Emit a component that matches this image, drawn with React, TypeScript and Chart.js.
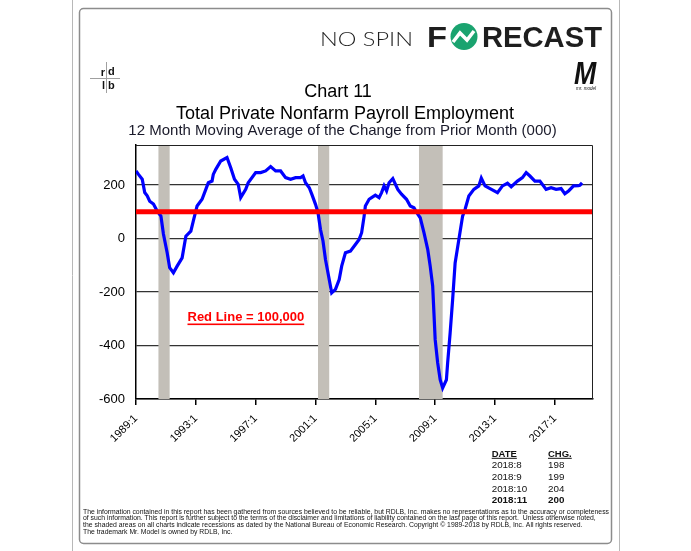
import React, { useEffect, useRef } from "react";
import { Chart, registerables } from "chart.js";

Chart.register(...registerables);

// ---- data ----
const months: string[] = [
  "1989:1", "1989:3", "1989:6", "1989:8", "1989:10", "1989:12", "1990:3", "1990:6", "1990:9", "1990:11",
  "1991:2", "1991:4", "1991:7", "1991:10", "1992:2", "1992:5", "1992:9", "1992:11", "1993:2", "1993:6",
  "1993:9", "1993:11", "1994:2", "1994:3", "1994:5", "1994:9", "1995:2", "1995:5", "1995:8", "1995:11",
  "1996:1", "1996:5", "1996:7", "1997:1", "1997:5", "1997:9", "1998:1", "1998:5", "1998:9", "1999:1",
  "1999:5", "1999:9", "2000:1", "2000:3", "2000:5", "2000:8", "2000:10", "2001:1", "2001:3", "2001:5",
  "2001:7", "2001:9", "2001:12", "2002:2", "2002:5", "2002:8", "2002:10", "2003:1", "2003:5", "2003:9",
  "2003:12", "2004:2", "2004:4", "2004:5", "2004:8", "2004:10", "2005:1", "2005:4", "2005:6", "2005:8",
  "2005:10", "2005:12", "2006:3", "2006:7", "2006:10", "2007:2", "2007:5", "2007:8", "2007:11", "2008:1",
  "2008:4", "2008:7", "2008:9", "2008:11", "2008:12", "2009:1", "2009:3", "2009:5", "2009:7", "2009:10",
  "2009:11", "2010:1", "2010:3", "2010:5", "2010:8", "2010:11", "2011:1", "2011:4", "2011:8", "2011:12",
  "2012:2", "2012:5", "2012:9", "2013:3", "2013:7", "2013:11", "2014:2", "2014:7", "2014:11", "2015:2",
  "2015:5", "2015:9", "2016:1", "2016:6", "2016:10", "2017:2", "2017:6", "2017:9", "2017:12", "2018:4",
  "2018:8", "2018:9", "2018:10", "2018:11",
];
const changes: number[] = [
  253, 240, 222, 172, 160, 140, 129, 103, 84, 17,
  -53, -109, -128, -103, -72, 9, 28, 66, 122, 147,
  184, 209, 215, 240, 259, 290, 303, 265, 222, 203,
  153, 184, 209, 247, 247, 253, 269, 253, 253, 228,
  222, 228, 228, 234, 209, 190, 166, 128, 97, 34,
  -9, -78, -153, -203, -190, -153, -103, -53, -47, -22,
  -3, 22, 84, 122, 147, 153, 162, 153, 172, 197,
  178, 209, 224, 184, 166, 147, 122, 115, 91, 78,
  22, -40, -103, -178, -278, -378, -465, -528, -559, -528,
  -465, -353, -228, -91, -3, 84, 110, 159, 184, 197,
  226, 197, 187, 172, 197, 207, 194, 215, 228, 247,
  234, 215, 215, 184, 190, 184, 187, 168, 178, 197,
  198, 199, 204, 200,
];
const redLineValue = 100;
const recessions: [string, string][] = [
  ["1990:7", "1991:3"],
  ["2001:3", "2001:11"],
  ["2007:12", "2009:6"],
];
const xTickYears = [1989, 1993, 1997, 2001, 2005, 2009, 2013, 2017];
const yTicks = [-600, -400, -200, 0, 200];
const tableDates = ["2018:8", "2018:9", "2018:10", "2018:11"];
const tableChanges = [198, 199, 204, 200];
const footnote = [
  "The information contained in this report has been gathered from sources believed to be reliable, but RDLB, Inc. makes no representations as to the accuracy or completeness",
  "of such information. This report is further subject to the terms of the disclaimer and limitations of liability contained on the last page of this report.  Unless otherwise noted,",
  "the shaded areas on all charts indicate recessions as dated by the National Bureau of Economic Research. Copyright \u00a9 1989-2018 by RDLB, Inc. All rights reserved.",
  "The trademark Mr. Model is owned by RDLB, Inc.",
];

const FONT = "'Liberation Sans', Arial, sans-serif";

function toX(s: string): number {
  const [y, m] = s.split(":").map(Number);
  return y + (m - 1) / 12;
}

function fitText(ctx: CanvasRenderingContext2D, t: string, x: number, y: number, width: number) {
  const w = ctx.measureText(t).width;
  ctx.save();
  ctx.translate(x, y);
  ctx.scale(width / w, 1);
  ctx.fillText(t, 0, 0);
  ctx.restore();
}

const decor = {
  id: "decor",
  beforeDatasetsDraw(chart: any) {
    const { ctx, chartArea: a, scales } = chart;
    const x = scales.x;
    ctx.save();
    ctx.fillStyle = "#c3bfb8";
    for (const [s, e] of recessions) {
      const x0 = x.getPixelForValue(toX(s));
      const x1 = x.getPixelForValue(toX(e) + 1 / 12);
      ctx.fillRect(x0, a.top, x1 - x0, a.bottom - a.top);
    }
    ctx.restore();
  },
  afterDraw(chart: any) {
    const { ctx, chartArea: a } = chart;
    ctx.save();

    // plot frame (top/right)
    ctx.strokeStyle = "#222";
    ctx.lineWidth = 1;
    ctx.beginPath();
    ctx.moveTo(a.left, a.top + 0.5);
    ctx.lineTo(a.right - 0.5, a.top + 0.5);
    ctx.lineTo(a.right - 0.5, a.bottom);
    ctx.stroke();

    // page frame
    ctx.strokeStyle = "#b8b8b8";
    ctx.lineWidth = 1;
    ctx.beginPath();
    ctx.moveTo(72.5, 0);
    ctx.lineTo(72.5, 551);
    ctx.moveTo(619.5, 0);
    ctx.lineTo(619.5, 551);
    ctx.stroke();
    ctx.strokeStyle = "#8c8c8c";
    ctx.lineWidth = 1.5;
    ctx.beginPath();
    (ctx as any).roundRect(79.5, 8.5, 532, 535, 4);
    ctx.stroke();

    // titles
    ctx.fillStyle = "#000";
    ctx.textAlign = "center";
    ctx.textBaseline = "alphabetic";
    ctx.font = `18px ${FONT}`;
    ctx.fillText("Chart 11", 338, 97);
    ctx.fillText("Total Private Nonfarm Payroll Employment", 345, 119);
    ctx.font = `15px ${FONT}`;
    ctx.fillStyle = "#1a1a2a";
    ctx.fillText("12 Month Moving Average of the Change from Prior Month (000)", 342.5, 134.5);

    // NO SPIN FORECAST logo
    ctx.textAlign = "left";
    ctx.fillStyle = "#1e1e1e";
    ctx.font = `300 19px Lato, ${FONT}`;
    fitText(ctx, "NO SPIN", 320, 46, 93);
    ctx.font = `bold 29px ${FONT}`;
    fitText(ctx, "F", 427, 47, 20);
    fitText(ctx, "RECAST", 482, 47, 120);
    ctx.fillStyle = "#1aa36f";
    ctx.beginPath();
    ctx.arc(464, 36.5, 13.5, 0, Math.PI * 2);
    ctx.fill();
    ctx.strokeStyle = "#fff";
    ctx.lineWidth = 3.5;
    ctx.lineJoin = "miter";
    ctx.beginPath();
    ctx.moveTo(453, 42);
    ctx.lineTo(460, 33);
    ctx.lineTo(467, 40);
    ctx.lineTo(474, 31);
    ctx.stroke();

    // rdlb logo
    ctx.strokeStyle = "#a0a0a0";
    ctx.lineWidth = 1;
    ctx.beginPath();
    ctx.moveTo(106.5, 62);
    ctx.lineTo(106.5, 93);
    ctx.moveTo(90, 78.5);
    ctx.lineTo(120, 78.5);
    ctx.stroke();
    ctx.fillStyle = "#111";
    ctx.font = `bold 11px ${FONT}`;
    ctx.textAlign = "right";
    ctx.fillText("r", 105, 76);
    ctx.fillText("l", 105, 89);
    ctx.textAlign = "left";
    ctx.fillText("d", 108, 75);
    ctx.fillText("b", 108, 89);

    // Mr. Model logo
    ctx.save();
    ctx.translate(574, 84);
    ctx.scale(0.92, 1.05);
    ctx.font = `bold italic 29px ${FONT}`;
    ctx.fillStyle = "#111";
    ctx.fillText("M", 0, 0);
    ctx.restore();
    ctx.font = `italic 4.5px ${FONT}`;
    ctx.textAlign = "center";
    ctx.fillText("mr. model", 586, 90);

    // red line annotation
    ctx.textAlign = "left";
    ctx.fillStyle = "#ff0000";
    ctx.font = `bold 13px ${FONT}`;
    const lbl = "Red Line = 100,000";
    ctx.fillText(lbl, 187.5, 321);
    const lw = ctx.measureText(lbl).width;
    ctx.fillRect(187.5, 323.5, lw, 1.6);

    // table
    ctx.fillStyle = "#111";
    ctx.font = `bold 9.5px ${FONT}`;
    ctx.fillText("DATE", 491.7, 456.7);
    let w = ctx.measureText("DATE").width;
    ctx.fillRect(491.7, 457.8, w, 1);
    ctx.fillText("CHG.", 548, 456.7);
    w = ctx.measureText("CHG.").width;
    ctx.fillRect(548, 457.8, w, 1);
    const rowY = [468.3, 480, 491.7, 503.3];
    tableDates.forEach((d, i) => {
      ctx.font = `${i === tableDates.length - 1 ? "bold " : ""}9.8px ${FONT}`;
      ctx.fillText(d, 491.7, rowY[i]);
      ctx.fillText(String(tableChanges[i]), 548, rowY[i]);
    });

    // footnote
    ctx.font = `6.8px ${FONT}`;
    ctx.fillStyle = "#111";
    const w1 = ctx.measureText(footnote[0]).width;
    const sx = 526 / w1;
    const fy = [513.5, 520.3, 527, 533.7];
    footnote.forEach((t, i) => {
      ctx.save();
      ctx.translate(83, fy[i]);
      ctx.scale(sx, 1);
      ctx.fillText(t, 0, 0);
      ctx.restore();
    });

    ctx.restore();
  },
};

export default function App() {
  const ref = useRef<HTMLCanvasElement | null>(null);
  useEffect(() => {
    if (!ref.current) return;
    const pts = months.map((m, i) => ({ x: toX(m), y: changes[i] }));
    const xMin = 1989;
    const xMax = 2019.55;
    const chart = new Chart(ref.current, {
      type: "line",
      data: {
        datasets: [
          {
            label: "Red Line",
            data: [
              { x: xMin, y: redLineValue },
              { x: xMax, y: redLineValue },
            ],
            borderColor: "#ff0000",
            borderWidth: 5,
            pointRadius: 0,
            order: 0,
          },
          {
            label: "Private payroll change",
            data: pts,
            borderColor: "#0000ff",
            borderWidth: 3.2,
            pointRadius: 0,
            tension: 0,
            order: 1,
          },
        ],
      },
      options: {
        animation: false,
        responsive: false,
        devicePixelRatio: 1,
        events: [],
        layout: { padding: { left: 86, right: 98, top: 145, bottom: 102 } },
        plugins: { legend: { display: false }, tooltip: { enabled: false }, title: { display: false } },
        scales: {
          x: {
            type: "linear",
            min: xMin,
            max: xMax,
            afterBuildTicks: (s: any) => {
              s.ticks = xTickYears.map((v) => ({ value: v }));
            },
            afterFit: (s: any) => {
              s.height = 50;
            },
            ticks: {
              callback: (v: any) => `${v}:1`,
              minRotation: 45,
              maxRotation: 45,
              autoSkip: false,
              padding: 7,
              color: "#000",
              font: { family: FONT, size: 11 },
            },
            grid: { drawOnChartArea: false, drawTicks: true, tickLength: 6, color: "#000", lineWidth: 1.5 },
            border: { display: true, color: "#000", width: 1.5 },
          },
          y: {
            type: "linear",
            min: -600,
            max: 350,
            afterBuildTicks: (s: any) => {
              s.ticks = yTicks.map((v) => ({ value: v }));
            },
            afterFit: (s: any) => {
              s.width = 50;
            },
            ticks: {
              padding: 11,
              color: "#000",
              font: { family: FONT, size: 13 },
            },
            grid: {
              drawTicks: false,
              color: "#333",
              lineWidth: 1.3,
            },
            border: { display: true, color: "#000", width: 1.5 },
          },
        },
      },
      plugins: [decor],
    });
    return () => chart.destroy();
  }, []);
  return (
    <div style={{ position: "absolute", left: 0, top: 0, width: 691, height: 551, background: "#fff" }}>
      <canvas ref={ref} width={691} height={551} style={{ display: "block" }} />
    </div>
  );
}
